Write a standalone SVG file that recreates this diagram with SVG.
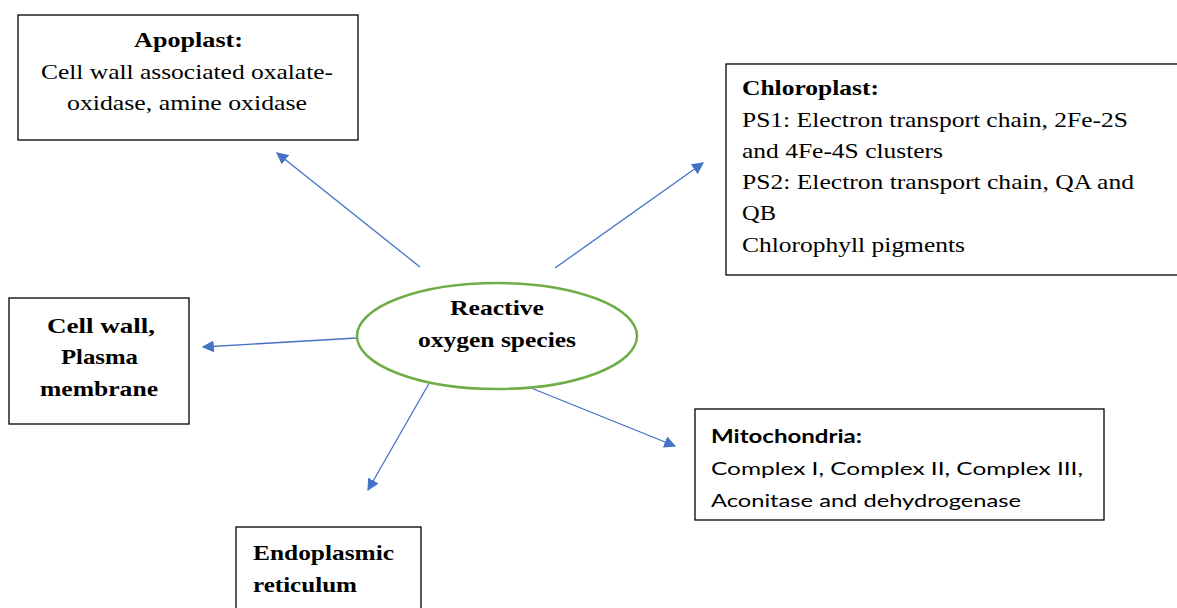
<svg xmlns="http://www.w3.org/2000/svg" width="1177" height="608" viewBox="0 0 1177 608">
<style>
.box{fill:#fff;stroke:#000;stroke-width:1.3}
.b{font-weight:bold}
.c{stroke:#4472C4;stroke-width:1.3;fill:none;marker-end:url(#ah)}
</style>
<defs>
<marker id="ah" viewBox="0 0 10 10" refX="9" refY="5" markerWidth="12" markerHeight="12" markerUnits="userSpaceOnUse" orient="auto">
<path d="M0,0 L10,5 L0,10 z" fill="#4472C4"/>
</marker>
</defs>
<rect width="1177" height="608" fill="#fff"/>
<g id="connectors">
<line class="c" x1="420" y1="267" x2="277" y2="153"/>
<line class="c" x1="555" y1="268" x2="703" y2="163"/>
<line class="c" x1="357" y1="338" x2="203" y2="347"/>
<line class="c" x1="431" y1="380" x2="368" y2="490"/>
<line class="c" x1="531" y1="388" x2="675" y2="446"/>
</g>
<g id="ros" font-family="Liberation Serif, serif" font-size="22" fill="#000">
<ellipse cx="497" cy="336" rx="140" ry="53" fill="#fff" stroke="#70AD47" stroke-width="2.5"/>
<text class="b" x="497" y="315" text-anchor="middle" textLength="94" lengthAdjust="spacingAndGlyphs">Reactive</text>
<text class="b" x="497" y="347" text-anchor="middle" textLength="158" lengthAdjust="spacingAndGlyphs">oxygen species</text>
</g>
<g id="apoplast" font-family="Liberation Serif, serif" font-size="22" fill="#000">
<rect class="box" x="18" y="15" width="340" height="125"/>
<text class="b" x="188.5" y="47" text-anchor="middle" textLength="109" lengthAdjust="spacingAndGlyphs">Apoplast:</text>
<text x="187" y="79" text-anchor="middle" textLength="292" lengthAdjust="spacingAndGlyphs">Cell wall associated oxalate-</text>
<text x="187" y="110" text-anchor="middle" textLength="240" lengthAdjust="spacingAndGlyphs">oxidase, amine oxidase</text>
</g>
<g id="chloroplast" font-family="Liberation Serif, serif" font-size="22" fill="#000">
<rect class="box" x="726" y="64" width="460" height="211"/>
<text class="b" x="742" y="95" textLength="137" lengthAdjust="spacingAndGlyphs">Chloroplast:</text>
<text x="742" y="127" textLength="386" lengthAdjust="spacingAndGlyphs">PS1: Electron transport chain, 2Fe-2S</text>
<text x="742" y="158" textLength="201" lengthAdjust="spacingAndGlyphs">and 4Fe-4S clusters</text>
<text x="742" y="189" textLength="392" lengthAdjust="spacingAndGlyphs">PS2: Electron transport chain, QA and</text>
<text x="742" y="220" textLength="34" lengthAdjust="spacingAndGlyphs">QB</text>
<text x="742" y="252" textLength="223" lengthAdjust="spacingAndGlyphs">Chlorophyll pigments</text>
</g>
<g id="cellwall" font-family="Liberation Serif, serif" font-size="22" fill="#000">
<rect class="box" x="9" y="298" width="180" height="126"/>
<text class="b" x="101" y="333" text-anchor="middle" textLength="108" lengthAdjust="spacingAndGlyphs">Cell wall,</text>
<text class="b" x="99.5" y="364" text-anchor="middle" textLength="77" lengthAdjust="spacingAndGlyphs">Plasma</text>
<text class="b" x="99" y="396" text-anchor="middle" textLength="118" lengthAdjust="spacingAndGlyphs">membrane</text>
</g>
<g id="er" font-family="Liberation Serif, serif" font-size="22" fill="#000">
<rect class="box" x="236" y="527" width="185" height="90"/>
<text class="b" x="253" y="560" textLength="141" lengthAdjust="spacingAndGlyphs">Endoplasmic</text>
<text class="b" x="253" y="592" textLength="104" lengthAdjust="spacingAndGlyphs">reticulum</text>
</g>
<g id="mitochondria" font-family="Lato, Liberation Sans, sans-serif" font-size="18" fill="#000">
<rect class="box" x="695" y="409" width="409" height="111"/>
<text class="b" x="711" y="443" textLength="151" lengthAdjust="spacingAndGlyphs">Mitochondria:</text>
<text x="711" y="475" textLength="372" lengthAdjust="spacingAndGlyphs">Complex I, Complex II, Complex III,</text>
<text x="711" y="507" textLength="310" lengthAdjust="spacingAndGlyphs">Aconitase and dehydrogenase</text>
</g>
</svg>
